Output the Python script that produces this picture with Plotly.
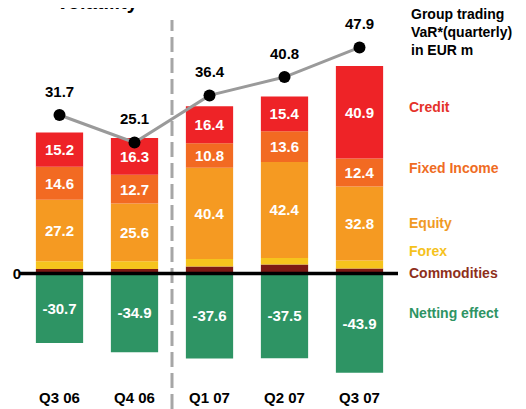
import plotly.graph_objects as go

quarters = ["Q3 06", "Q4 06", "Q1 07", "Q2 07", "Q3 07"]
commodities = [2.0, 2.0, 3.1, 4.0, 2.2]
forex = [3.4, 3.4, 3.3, 2.9, 3.5]
equity = [27.2, 25.6, 40.4, 42.4, 32.8]
fixed_income = [14.6, 12.7, 10.8, 13.6, 12.4]
credit = [15.2, 16.3, 16.4, 15.4, 40.9]
netting = [-30.7, -34.9, -37.6, -37.5, -43.9]
var_total = [31.7, 25.1, 36.4, 40.8, 47.9]

series = [
    ("Commodities", commodities, "#7d1a14", False, "#8e2f1b"),
    ("Forex", forex, "#f6c41d", False, "#f5c21c"),
    ("Equity", equity, "#f59a22", True, "#f09a24"),
    ("Fixed Income", fixed_income, "#f26a22", True, "#ef6c23"),
    ("Credit", credit, "#ee2327", True, "#e5322a"),
    ("Netting effect", netting, "#2e9464", True, "#2e9464"),
]
legend_y_px = {"Credit": 107.3, "Fixed Income": 168.3, "Equity": 223.3,
               "Forex": 250.7, "Commodities": 272.7, "Netting effect": 313.3}

FONT = "Liberation Sans, Arial, Helvetica, sans-serif"
OFF = 8  # default page body margin
W, H = 526 - OFF, 409 - OFF
# plot area in page pixels
PL, PR, PT, PB = 22, 397, 20, 387
ML, MR, MT, MB = PL - OFF, W - (PR - OFF), PT - OFF, H - (PB - OFF)
PH = PB - PT
PW = PR - PL

def py(p):
    return (PB - p) / PH

def px(p):
    return (p - PL) / PW

fig = go.Figure()
for name, vals, color, show_text, _ in series:
    fig.add_trace(go.Bar(
        x=quarters, y=vals, name=name,
        marker=dict(color=color, line=dict(width=0)),
        width=0.63,
        text=[f"{v:.1f}" for v in vals] if show_text else None,
        textposition="inside" if show_text else "none",
        insidetextanchor="middle",
        textangle=0,
        constraintext="none",
        textfont=dict(color="white", size=15, family=FONT, weight="bold"),
        hoverinfo="skip",
    ))

fig.add_trace(go.Scatter(
    x=quarters, y=var_total, yaxis="y2", mode="lines+markers",
    line=dict(color="#9a9a9a", width=3),
    marker=dict(color="black", size=12),
    hoverinfo="skip",
))

annotations = []
for q, v in zip(quarters, var_total):
    annotations.append(dict(
        x=q, y=v, xref="x", yref="y2", text=f"{v:.1f}", showarrow=False,
        yshift=24, font=dict(size=15, color="black", family=FONT, weight="bold"),
    ))

for name, vals, color, show_text, tcolor in series:
    annotations.append(dict(
        x=px(407), y=py(legend_y_px[name]), xref="paper", yref="paper",
        text=name, showarrow=False, xanchor="left", yanchor="middle",
        font=dict(size=14, color=tcolor, family=FONT, weight="bold"),
    ))

annotations.append(dict(
    x=px(409), y=py(4), xref="paper", yref="paper",
    text="Group trading<br>VaR*(quarterly)<br>in EUR m", showarrow=False,
    xanchor="left", yanchor="top", align="left",
    font=dict(size=14, color="black", family=FONT, weight="bold"),
))

annotations.append(dict(
    x=px(97.5), y=py(15), xref="paper", yref="paper",
    text="Volatility", showarrow=False, xanchor="center", yanchor="bottom",
    font=dict(size=20, color="black", family=FONT, weight="bold"),
))

shapes = [
    dict(type="line", xref="x", yref="paper", x0=1.5, x1=1.5, y0=py(409), y1=py(20),
         line=dict(color="#a6a6a6", width=3, dash="15px,6px"), layer="below"),
    dict(type="line", xref="paper", yref="y", x0=px(20), x1=px(398), y0=0, y1=0,
         line=dict(color="black", width=3.5), layer="above"),
]

bar_scale = 2.26
line_scale = 4.17
zero_bar_px = 273.5
zero_line_px = 247.2
y_top = (zero_bar_px - PT) / bar_scale
y_bot = -(PB - zero_bar_px) / bar_scale
y2_top = (zero_line_px - PT) / line_scale
y2_bot = -(PB - zero_line_px) / line_scale

fig.update_layout(
    width=W, height=H,
    margin=dict(l=ML, r=MR, t=MT, b=MB, pad=0, autoexpand=False),
    barmode="relative",
    bargap=0.37,
    plot_bgcolor="white", paper_bgcolor="white",
    showlegend=False,
    font=dict(family=FONT, color="black"),
    xaxis=dict(range=[-0.5, 4.5], showgrid=False, zeroline=False, showline=False,
               automargin=False, ticks="",
               tickfont=dict(size=15, color="black", family=FONT, weight="bold")),
    yaxis=dict(range=[y_bot, y_top], showgrid=False, zeroline=False, showline=False,
               automargin=False,
               tickvals=[0], ticktext=["0"], ticks="",
               tickfont=dict(size=15, color="black", family=FONT, weight="bold")),
    yaxis2=dict(range=[y2_bot, y2_top], overlaying="y", visible=False, automargin=False),
    annotations=annotations,
    shapes=shapes,
)

fig.write_html("out.html")
